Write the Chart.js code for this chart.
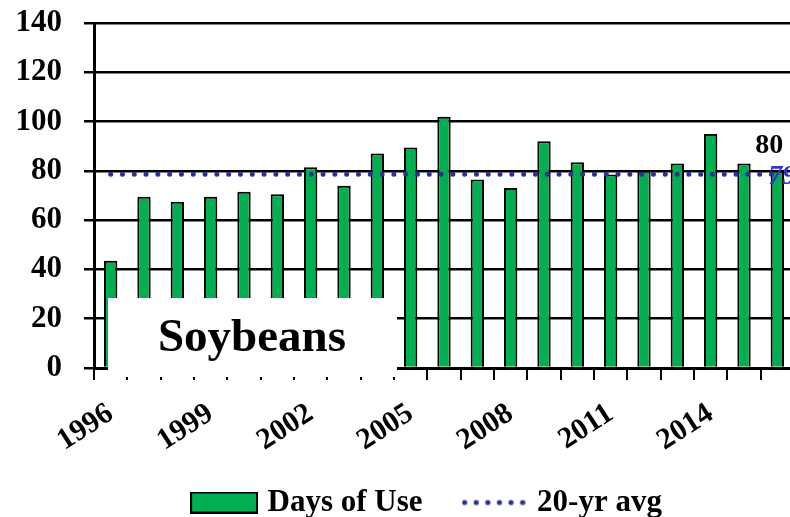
<!DOCTYPE html>
<html>
<head>
<meta charset="utf-8">
<script src="https://cdn.jsdelivr.net/npm/chart.js@4.4.1/dist/chart.umd.min.js"></script>
<style>
  html, body { margin: 0; padding: 0; background: #fff; }
  #wrap { width: 790px; height: 517px; overflow: hidden; position: relative; }
  #wrap canvas { position: absolute; left: 0; top: 0; }
</style>
</head>
<body>
<div id="wrap"><canvas id="chart" width="800" height="517"></canvas></div>
<script>
// data
const years = ['1996', '1997', '1998', '1999', '2000', '2001', '2002', '2003', '2004', '2005', '2006',
  '2007', '2008', '2009', '2010', '2011', '2012', '2013', '2014', '2015', '2016'];
const daysOfUse = [43.5, 69.5, 67.5, 69.5, 71.5, 70.5, 81.5, 74, 87, 89.5, 102,
  76.5, 73, 92, 83.5, 78.5, 80, 83, 95, 83, 80];
const avgDays = [78.6, 78.6, 78.6, 78.6, 78.6, 78.6, 78.6, 78.6, 78.6, 78.6, 78.6,
  78.6, 78.6, 78.6, 78.6, 78.6, 78.6, 78.6, 78.6, 78.6, 78.6];
const tickYears = ['1996', '1999', '2002', '2005', '2008', '2011', '2014'];
const lastValueLabel = '80';
const avgValueLabel = '79';
const cropLabel = 'Soybeans';

const GREEN = '#00b050';
const DOT_BLUE = '#2e3192';
const SERIF = '"Liberation Serif", "Times New Roman", serif';

// legend symbols
function makeBoxSymbol() {
  const c = document.createElement('canvas');
  c.width = 68; c.height = 22;
  const g = c.getContext('2d');
  g.fillStyle = GREEN;
  g.fillRect(1, 1, 66, 20);
  g.lineWidth = 2;
  g.strokeStyle = '#000';
  g.strokeRect(1, 1, 66, 20);
  return c;
}
function makeDotSymbol() {
  const c = document.createElement('canvas');
  c.width = 64; c.height = 22;
  const g = c.getContext('2d');
  g.fillStyle = DOT_BLUE;
  for (let i = 0; i < 6; i++) {
    g.beginPath();
    g.arc(3 + i * 11.6, 11, 2.6, 0, Math.PI * 2);
    g.fill();
  }
  return c;
}

const overlay = {
  id: 'overlay',
  afterLayout(chart) {
    // nudge the legend to where it sits in the original
    const lg = chart.legend;
    lg.left += 32; lg.right += 32;
    lg.top -= 6; lg.bottom -= 6;
  },
  afterDatasetsDraw(chart) {
    const ctx = chart.ctx;
    const x = chart.scales.x, y = chart.scales.y;
    const last = daysOfUse.length - 1;
    ctx.save();
    ctx.font = 'bold 28px ' + SERIF;
    ctx.fillStyle = '#000';
    ctx.textAlign = 'center';
    ctx.textBaseline = 'alphabetic';
    ctx.fillText(lastValueLabel, x.getPixelForValue(last) - 8, y.getPixelForValue(daysOfUse[last]) - 18);
    ctx.font = 'italic bold 28px ' + SERIF;
    ctx.fillStyle = '#3333cc';
    ctx.textAlign = 'left';
    ctx.textBaseline = 'middle';
    ctx.fillText(avgValueLabel, x.getPixelForValue(last) - 9, y.getPixelForValue(avgDays[last]) + 2);
    ctx.restore();
  },
  afterDraw(chart) {
    const ctx = chart.ctx;
    ctx.save();
    ctx.fillStyle = '#fff';
    ctx.fillRect(108, 298, 289, 79);
    ctx.font = 'bold 47px ' + SERIF;
    ctx.fillStyle = '#000';
    ctx.textAlign = 'center';
    ctx.textBaseline = 'alphabetic';
    ctx.fillText(cropLabel, 252, 351);
    ctx.restore();
  }
};

const chart = new Chart(document.getElementById('chart'), {
  type: 'bar',
  data: {
    labels: years,
    datasets: [
      {
        label: 'Days of Use',
        data: daysOfUse,
        backgroundColor: GREEN,
        borderColor: '#000',
        borderWidth: 2,
        categoryPercentage: 1,
        barPercentage: 0.4,
        order: 2
      },
      {
        type: 'line',
        label: '20-yr avg',
        data: avgDays,
        borderColor: DOT_BLUE,
        borderWidth: 5,
        borderDash: [0, 11.8],
        borderCapStyle: 'round',
        pointRadius: 0,
        fill: false,
        order: 1
      }
    ]
  },
  options: {
    responsive: false,
    animation: false,
    devicePixelRatio: 1,
    layout: { padding: { left: 0, right: 6, top: 23, bottom: -17 } },
    plugins: {
      tooltip: { enabled: false },
      legend: {
        position: 'bottom',
        labels: {
          usePointStyle: true,
          pointStyleWidth: 56,
          boxHeight: 22,
          padding: 43,
          color: '#000',
          font: { family: SERIF, size: 31, weight: 'bold' },
          generateLabels: () => [
            { text: 'Days of Use', pointStyle: makeBoxSymbol(), fillStyle: GREEN, strokeStyle: '#000', lineWidth: 0, hidden: false, datasetIndex: 0 },
            { text: '20-yr avg', pointStyle: makeDotSymbol(), fillStyle: DOT_BLUE, strokeStyle: DOT_BLUE, lineWidth: 0, hidden: false, datasetIndex: 1 }
          ]
        }
      }
    },
    scales: {
      x: {
        offset: true,
        grid: { display: true, drawOnChartArea: false, drawTicks: true, tickLength: 12, color: '#000', lineWidth: 2, offset: true },
        border: { display: true, color: '#000', width: 3 },
        ticks: {
          autoSkip: false,
          minRotation: 33,
          maxRotation: 33,
          padding: 16,
          color: '#000',
          font: { family: SERIF, size: 30, weight: 'bold' },
          callback: function (v, i) {
            const lab = years[i];
            return tickYears.includes(lab) ? lab : '';
          }
        },
        afterFit: s => { s.height = 82; s.paddingLeft = 0; s.paddingRight = 0; }
      },
      y: {
        min: 0,
        max: 140,
        grid: { color: '#000', lineWidth: 2.5, tickLength: 10 },
        border: { display: true, color: '#000', width: 3 },
        ticks: {
          stepSize: 20,
          padding: 22,
          color: '#000',
          font: { family: SERIF, size: 31, weight: 'bold' }
        },
        afterFit: s => { s.width = 94; s.paddingTop = 0; s.paddingBottom = 0; }
      }
    }
  },
  plugins: [overlay]
});
</script>
</body>
</html>
